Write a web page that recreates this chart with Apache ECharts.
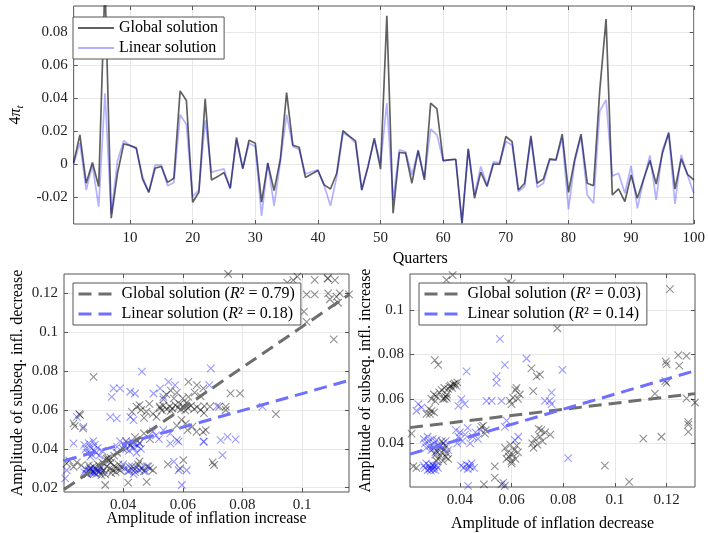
<!DOCTYPE html>
<html><head><meta charset="utf-8">
<script src="https://cdn.jsdelivr.net/npm/echarts@6/dist/echarts.min.js"></script>
<style>html,body{margin:0;padding:0;background:#fff}#c{width:708px;height:533px}</style>
</head><body><div id="c"></div>
<script>
// ---------- data ----------
const quarters = ['1','2','3','4','5','6','7','8','9','10','11','12','13','14','15','16','17','18','19','20',
'21','22','23','24','25','26','27','28','29','30','31','32','33','34','35','36','37','38','39','40',
'41','42','43','44','45','46','47','48','49','50','51','52','53','54','55','56','57','58','59','60',
'61','62','63','64','65','66','67','68','69','70','71','72','73','74','75','76','77','78','79','80',
'81','82','83','84','85','86','87','88','89','90','91','92','93','94','95','96','97','98','99','100'];

const globalPi = [0.001,0.0178,-0.0115,0.001,-0.0135,0.11,-0.0327,-0.0055,0.0123,0.0113,
0.0099,-0.009,-0.017,-0.0024,-0.0014,-0.011,-0.0085,0.0444,0.0386,-0.023,
-0.017,0.0396,-0.0095,-0.0075,-0.005,-0.0145,0.0162,-0.0028,0.0145,0.0127,
-0.023,0.0006,-0.016,0.003,0.0434,0.0115,0.0103,-0.008,-0.0059,-0.0038,
-0.0125,-0.015,-0.0055,0.0204,0.017,0.0141,-0.0155,-0.0015,0.0158,-0.003,
0.0899,-0.0297,0.0071,0.0067,-0.0115,0.0083,-0.0095,0.037,0.0335,0.0022,
0.0026,0.003,-0.0355,0.0093,-0.0206,-0.0048,-0.0135,0.0,0.0,0.0168,
0.0137,-0.0156,-0.0115,0.0172,-0.0115,-0.009,0.0032,0.0026,0.0182,-0.017,
0.003,0.0182,-0.0115,-0.013,0.045,0.0879,-0.0186,-0.015,-0.0226,-0.0065,
-0.0206,-0.009,0.0022,-0.012,0.0067,0.0192,-0.015,0.0032,-0.0061,-0.0095];

const linearPi = [0.0,0.013,-0.0156,-0.0005,-0.0257,0.043,-0.030,0.002,0.0143,0.0113,
0.0093,-0.0075,-0.017,-0.0005,-0.0005,-0.013,-0.011,0.030,0.024,-0.0196,
-0.0156,0.0265,-0.0048,-0.0038,-0.0028,-0.015,0.0147,-0.0024,0.0127,0.0107,
-0.0313,0.001,-0.0252,0.0016,0.030,0.0107,0.009,-0.0059,-0.0046,-0.0034,
-0.013,-0.0252,-0.0075,0.019,0.0168,0.0127,-0.016,-0.001,0.0147,0.0006,
0.037,-0.0216,0.0087,0.0075,-0.0065,0.0083,-0.0085,0.0212,0.0178,0.0022,
0.0026,0.003,-0.036,0.0093,-0.0186,-0.0014,-0.0125,0.0014,0.001,0.0137,
0.0117,-0.0166,-0.0135,0.0158,-0.014,-0.0115,0.0026,0.0024,0.0158,-0.0273,
0.0016,0.0168,-0.0186,-0.0236,0.0323,0.039,-0.0071,-0.0055,-0.0176,-0.001,
-0.0267,-0.0095,0.0053,-0.0216,0.0087,0.0184,-0.024,0.0057,-0.0065,-0.0176];

// left scatter: x = amplitude of inflation increase, y = subsequent decrease
const incGlobal = [
[0.0752,0.1300],[0.0970,0.1269],[0.0984,0.1286],[0.1042,0.1270],[0.1087,0.1277],[0.1110,0.1269],[0.1015,0.1195],[0.1042,0.1195],
[0.1087,0.1200],[0.1115,0.1183],[0.1126,0.1200],[0.1157,0.1195],[0.1120,0.1152],[0.1093,0.1170],[0.1006,0.1106],[0.1015,0.1054],
[0.1106,0.0963],[0.0950,0.1255],[0.1085,0.1277],
[0.0760,0.0686],[0.0792,0.0686],[0.0912,0.0579],[0.0705,0.0317],[0.0744,0.0617],[0.0744,0.0600],[0.0722,0.0617],[0.0691,0.0617],
[0.0671,0.0584],[0.0677,0.0497],
[0.0524,0.0610],[0.0535,0.0622],[0.0546,0.0605],[0.0556,0.0618],[0.0565,0.0608],[0.0575,0.0625],[0.0584,0.0612],[0.0594,0.0603],
[0.0601,0.0620],[0.0608,0.0598],[0.0618,0.0610],[0.0628,0.0622],[0.0638,0.0605],[0.0648,0.0615],[0.0660,0.0601],[0.0672,0.0620],
[0.0530,0.0598],[0.0560,0.0595],[0.0590,0.0630],[0.0612,0.0635],
[0.0619,0.0745],[0.0647,0.0728],[0.0619,0.0668],[0.0669,0.0711],[0.0560,0.0700],[0.0545,0.0680],[0.0580,0.0690],[0.0600,0.0660],
[0.0535,0.0655],[0.0570,0.0660],[0.0640,0.0690],[0.0660,0.0670],
[0.0445,0.0617],[0.0478,0.0591],[0.0512,0.0565],[0.0523,0.0617],[0.0488,0.0631],[0.0460,0.0600],[0.0500,0.0580],[0.0430,0.0590],
[0.0470,0.0560],[0.0455,0.0625],
[0.0632,0.0514],[0.0668,0.0488],[0.0646,0.0488],[0.0616,0.0497],[0.0596,0.0549],[0.0610,0.0530],[0.0580,0.0520],
[0.0410,0.0440],[0.0425,0.0420],[0.0440,0.0460],[0.0455,0.0430],[0.0470,0.0480],[0.0400,0.0400],[0.0380,0.0380],[0.0490,0.0450],[0.0370,0.0365],
[0.0290,0.0300],[0.0295,0.0285],[0.0300,0.0310],[0.0305,0.0275],[0.0310,0.0295],[0.0315,0.0320],[0.0320,0.0285],[0.0325,0.0305],
[0.0330,0.0330],[0.0335,0.0290],[0.0340,0.0345],[0.0345,0.0350],[0.0350,0.0352],[0.0352,0.0340],[0.0355,0.0300],[0.0358,0.0355],
[0.0360,0.0330],[0.0365,0.0290],[0.0370,0.0310],[0.0375,0.0280],[0.0380,0.0300],[0.0385,0.0320],[0.0390,0.0290],[0.0395,0.0305],
[0.0280,0.0270],[0.0285,0.0315],[0.0340,0.0270],[0.0360,0.0275],[0.0345,0.0310],[0.0330,0.0280],
[0.0430,0.0310],[0.0440,0.0295],[0.0450,0.0320],[0.0460,0.0300],[0.0470,0.0285],[0.0480,0.0310],[0.0490,0.0300],[0.0500,0.0290],
[0.0420,0.0285],[0.0455,0.0335],
[0.0211,0.0325],[0.0234,0.0308],[0.0220,0.0340],[0.0245,0.0330],[0.0260,0.0315],[0.0253,0.0579],[0.0238,0.0517],[0.0266,0.0505],
[0.0234,0.0531],[0.0256,0.0574],
[0.0301,0.0771],[0.0327,0.0265],[0.0340,0.0214],[0.0417,0.0226],[0.0479,0.0230],[0.0602,0.0342],[0.0591,0.0300],[0.0550,0.0320],[0.0700,0.0330]];

const incLinear = [
[0.0463,0.0797],[0.0368,0.0711],[0.0390,0.0711],[0.0424,0.0694],[0.0440,0.0685],[0.0362,0.0668],[0.0524,0.0711],[0.0552,0.0745],
[0.0574,0.0728],[0.0502,0.0685],[0.0535,0.0668],[0.0357,0.0565],[0.0379,0.0557],[0.0424,0.0565],[0.0435,0.0548],[0.0245,0.0565],
[0.0267,0.0514],[0.0535,0.0497],[0.0558,0.0480],[0.0580,0.0445],[0.0558,0.0428],[0.0586,0.0437],[0.0669,0.0437],[0.0694,0.0814],
[0.0689,0.0728],[0.0715,0.0620],[0.0727,0.0445],[0.0750,0.0462],[0.0777,0.0449],[0.0733,0.0368],[0.0867,0.0617],[0.0671,0.0437],
[0.0234,0.0428],[0.0206,0.0248],[0.0211,0.0290],[0.0570,0.0334],[0.0586,0.0290],[0.0613,0.0290],[0.0597,0.0214],
[0.0270,0.0420],[0.0275,0.0400],[0.0280,0.0380],[0.0285,0.0430],[0.0290,0.0410],[0.0295,0.0370],[0.0300,0.0395],[0.0305,0.0420],
[0.0310,0.0380],[0.0315,0.0405],[0.0320,0.0365],[0.0290,0.0360],[0.0300,0.0440],[0.0330,0.0390],
[0.0270,0.0280],[0.0275,0.0295],[0.0280,0.0270],[0.0285,0.0290],[0.0290,0.0300],[0.0295,0.0275],[0.0300,0.0285],[0.0305,0.0295],
[0.0310,0.0270],[0.0315,0.0290],[0.0320,0.0280],[0.0325,0.0300],[0.0288,0.0283],[0.0302,0.0278],
[0.0405,0.0420],[0.0410,0.0400],[0.0415,0.0430],[0.0420,0.0390],[0.0425,0.0415],[0.0430,0.0435],[0.0435,0.0405],[0.0440,0.0425],
[0.0445,0.0380],[0.0450,0.0415],[0.0455,0.0430],[0.0460,0.0400],[0.0390,0.0440],[0.0380,0.0410],
[0.0405,0.0300],[0.0415,0.0285],[0.0420,0.0310],[0.0430,0.0295],[0.0440,0.0280],[0.0445,0.0305],[0.0455,0.0290],[0.0465,0.0300],
[0.0475,0.0285],[0.0400,0.0320],[0.0435,0.0270],[0.0485,0.0310],
[0.0510,0.0470],[0.0520,0.0450],[0.0500,0.0490]];

// right scatter: x = amplitude of inflation decrease, y = subsequent increase
const decGlobal = [
[0.0348,0.1135],[0.0372,0.1157],[0.0587,0.1128],[0.0600,0.1120],[0.1213,0.1094],[0.0777,0.0918],[0.0303,0.0775],[0.0316,0.0753],
[0.1245,0.0797],[0.1197,0.0768],[0.1200,0.0756],[0.1277,0.0794],[0.1249,0.0750],[0.1200,0.0672],[0.1195,0.0680],[0.1155,0.0624],
[0.1277,0.0603],[0.1310,0.0584],[0.1284,0.0496],[0.1284,0.0485],[0.1284,0.0452],[0.1110,0.0422],[0.1180,0.0430],[0.0961,0.0300],[0.1055,0.0227],
[0.0290,0.0600],[0.0300,0.0620],[0.0305,0.0590],[0.0310,0.0610],[0.0320,0.0630],[0.0330,0.0640],[0.0335,0.0600],[0.0340,0.0650],
[0.0345,0.0610],[0.0350,0.0620],[0.0355,0.0645],[0.0360,0.0655],[0.0365,0.0660],[0.0370,0.0650],[0.0375,0.0665],[0.0380,0.0670],
[0.0385,0.0660],[0.0350,0.0605],[0.0340,0.0600],[0.0390,0.0675],
[0.0271,0.0533],[0.0284,0.0533],[0.0290,0.0545],[0.0300,0.0540],[0.0280,0.0555],
[0.0213,0.0444],[0.0206,0.0430],[0.0220,0.0297],[0.0232,0.0290],
[0.0300,0.0380],[0.0305,0.0350],[0.0310,0.0365],[0.0315,0.0330],[0.0320,0.0385],[0.0325,0.0345],[0.0330,0.0360],[0.0335,0.0320],
[0.0340,0.0375],[0.0345,0.0340],[0.0350,0.0355],[0.0355,0.0330],[0.0345,0.0390],[0.0335,0.0400],[0.0310,0.0320],[0.0330,0.0410],
[0.0594,0.0591],[0.0600,0.0577],[0.0606,0.0606],[0.0619,0.0650],[0.0632,0.0620],[0.0677,0.0738],[0.0697,0.0702],[0.0710,0.0709],
[0.0684,0.0635],[0.0615,0.0640],[0.0625,0.0600],
[0.0680,0.0400],[0.0690,0.0420],[0.0700,0.0395],[0.0710,0.0430],[0.0720,0.0410],[0.0685,0.0380],[0.0715,0.0460],[0.0705,0.0465],
[0.0730,0.0450],[0.0750,0.0440],
[0.0575,0.0380],[0.0585,0.0360],[0.0590,0.0340],[0.0595,0.0395],[0.0600,0.0320],[0.0605,0.0350],[0.0610,0.0370],[0.0615,0.0330],
[0.0620,0.0390],[0.0580,0.0330],[0.0600,0.0310],[0.0625,0.0360],
[0.0484,0.0474],[0.0497,0.0444],[0.0500,0.0460],[0.0535,0.0297],[0.0535,0.0246],[0.0493,0.0216],[0.0561,0.0216],[0.0574,0.0209],[0.0490,0.0480]];

const decLinear = [
[0.0555,0.0870],[0.0574,0.0753],[0.0658,0.0782],[0.0542,0.0702],[0.0542,0.0672],[0.0426,0.0724],[0.0406,0.0599],[0.0419,0.0577],
[0.0394,0.0569],[0.0503,0.0591],[0.0523,0.0591],[0.0561,0.0591],[0.0239,0.0577],[0.0252,0.0562],[0.0232,0.0547],[0.0206,0.0253],
[0.0432,0.0209],[0.0568,0.0224],[0.0626,0.0430],[0.0613,0.0415],[0.0581,0.0503],[0.0574,0.0474],[0.0729,0.0591],[0.0755,0.0577],
[0.0797,0.0731],[0.0819,0.0334],[0.0748,0.0591],[0.0755,0.0628],
[0.0260,0.0420],[0.0265,0.0400],[0.0270,0.0380],[0.0275,0.0430],[0.0280,0.0410],[0.0285,0.0390],[0.0290,0.0370],[0.0295,0.0420],
[0.0300,0.0400],[0.0305,0.0360],[0.0310,0.0415],[0.0320,0.0390],[0.0330,0.0380],[0.0345,0.0410],[0.0355,0.0370],
[0.0260,0.0300],[0.0265,0.0290],[0.0270,0.0310],[0.0275,0.0280],[0.0280,0.0300],[0.0285,0.0290],[0.0288,0.0278],[0.0292,0.0305],
[0.0296,0.0285],[0.0300,0.0295],[0.0305,0.0280],[0.0310,0.0300],[0.0315,0.0290],[0.0283,0.0285],[0.0298,0.0300],
[0.0405,0.0300],[0.0415,0.0290],[0.0425,0.0305],[0.0430,0.0285],[0.0440,0.0295],[0.0445,0.0310],[0.0455,0.0290],[0.0435,0.0300],
[0.0385,0.0460],[0.0395,0.0430],[0.0400,0.0450],[0.0410,0.0410],[0.0420,0.0440],[0.0430,0.0470],[0.0440,0.0400],[0.0450,0.0430],
[0.0460,0.0450],[0.0470,0.0420],[0.0480,0.0460],[0.0390,0.0400]];

// fitted regression lines: [intercept, slope]
const incFitGlobal = [-0.00211, 1.05];
const incFitLinear = [0.02515, 0.433];
const decFitGlobal = [0.04423, 0.1387];
const decFitLinear = [0.02816, 0.34];

// axis ranges and tick labels
const topY = [-0.0362, 0.0958];
const topYTicks = [-0.02, 0, 0.02, 0.04, 0.06, 0.08];
const incX = [0.0202, 0.1157], incXTicks = [0.04, 0.06, 0.08, 0.1];
const incY = [0.0178, 0.1300], incYTicks = [0.02, 0.04, 0.06, 0.08, 0.1, 0.12];
const decX = [0.0207, 0.1310], decXTicks = [0.04, 0.06, 0.08, 0.1, 0.12];
const decY = [0.0204, 0.1162], decYTicks = [0.04, 0.06, 0.08, 0.1];

// ---------- styling ----------
const serif = 'Liberation Serif';
const frame = '#555555';
const gridC = '#e8e8e8';
const fmt = v => String(+(+v).toFixed(4));
const richName = {
  i: {fontFamily: serif, fontSize: 16, fontStyle: 'italic', color: '#000'},
  s: {fontFamily: serif, fontSize: 11, fontStyle: 'italic', color: '#000', verticalAlign: 'bottom', padding: [8, 0, 0, 0]}
};
const nameStyle = {fontFamily: serif, fontSize: 16, color: '#000', rich: richName};

function valAxis(grid, range, ticks, pos, name, gap, mirror, noMove) {
  const ax = {
    type: 'value', gridIndex: grid, min: range[0], max: range[1], position: pos,
    name: mirror ? '' : name, nameLocation: 'middle', nameGap: gap,
    nameRotate: (pos === 'left') ? 90 : 0, nameTextStyle: nameStyle,
    axisLine: {show: false, onZero: false},
    axisTick: {show: true, inside: true, length: 4, customValues: ticks, lineStyle: {color: frame}},
    axisLabel: {show: !mirror, customValues: ticks, margin: 6, formatter: fmt,
      fontFamily: serif, fontSize: 15, color: '#222'},
    splitLine: {show: !mirror, lineStyle: {color: gridC, width: 1}}
  };
  if (noMove) ax.nameMoveOverlap = false;
  return ax;
}
const q10 = (i) => (i + 1) % 10 === 0;
function catAxis(mirror) {
  return {
    type: 'category', gridIndex: 0, data: quarters, boundaryGap: false, position: mirror ? 'top' : 'bottom',
    name: mirror ? '' : 'Quarters', nameLocation: 'middle', nameGap: 27,
    nameTextStyle: Object.assign({}, nameStyle, {padding: [0, 0, 0, 73]}),
    axisLine: {show: false, onZero: false},
    axisTick: {show: true, inside: true, length: 4, interval: (i) => q10(i), lineStyle: {color: frame}},
    axisLabel: {show: !mirror, interval: (i) => q10(i), margin: 7, fontFamily: serif, fontSize: 15, color: '#222'},
    splitLine: {show: !mirror, interval: (i) => q10(i), lineStyle: {color: gridC, width: 1}}
  };
}
const crossSym = 'path://M0 0L10 10M10 0L0 10';
function scatterSeries(name, data, ax, col) {
  return {type: 'scatter', name: name, data: data, xAxisIndex: ax, yAxisIndex: ax,
    symbol: crossSym, symbolSize: 7.5,
    itemStyle: {color: 'rgba(0,0,0,0)', borderColor: col, borderWidth: 1.1},
    emphasis: {disabled: true}, z: 2};
}
function fitSeries(name, fit, range, ax, col) {
  const pts = range.map(x => [x, fit[0] + fit[1] * x]);
  return {type: 'line', name: name, data: pts, xAxisIndex: ax, yAxisIndex: ax,
    symbol: 'none',
    color: col, lineStyle: {color: col, width: 3, type: [13, 7]}, z: 4, clip: true};
}
const legendBase = {
  orient: 'vertical', itemWidth: 38, itemHeight: 14, itemGap: 4,
  padding: [3, 6, 3, 4], borderColor: frame, borderWidth: 1, backgroundColor: '#fff',
  itemStyle: {opacity: 0},
  textStyle: {fontFamily: serif, fontSize: 16, color: '#000',
    rich: {i: {fontFamily: serif, fontSize: 16, fontStyle: 'italic', color: '#000'}}},
  formatter: (n) => n.replace('R²', '{i|R}²'),
  selectedMode: false
};

const chart = echarts.init(document.getElementById('c'), null, {renderer: 'canvas'});
chart.setOption({
  animation: false,
  backgroundColor: '#fff',
  grid: [
    {left: 64, top: 6, width: 631, height: 218, show: true, borderColor: frame, borderWidth: 1, backgroundColor: 'transparent'},
    {left: 64, top: 274, width: 285, height: 218, show: true, borderColor: frame, borderWidth: 1, backgroundColor: 'transparent'},
    {left: 410, top: 274, width: 285, height: 217, show: true, borderColor: frame, borderWidth: 1, backgroundColor: 'transparent'}
  ],
  xAxis: [
    catAxis(false), catAxis(true),
    valAxis(1, incX, incXTicks, 'bottom', 'Amplitude of inflation increase', 19, false, true),
    valAxis(1, incX, incXTicks, 'top', '', 0, true),
    valAxis(2, decX, decXTicks, 'bottom', 'Amplitude of inflation decrease', 29, false, true),
    valAxis(2, decX, decXTicks, 'top', '', 0, true)
  ],
  yAxis: [
    valAxis(0, topY, topYTicks, 'left', '4{i|π}{s|t}', 43, false),
    valAxis(0, topY, topYTicks, 'right', '', 0, true),
    valAxis(1, incY, incYTicks, 'left', 'Amplitude of subseq. infl. decrease', 38, false),
    valAxis(1, incY, incYTicks, 'right', '', 0, true),
    valAxis(2, decY, decYTicks, 'left', 'Amplitude of subseq. infl. increase', 36, false),
    valAxis(2, decY, decYTicks, 'right', '', 0, true)
  ],
  legend: [
    Object.assign({}, legendBase, {left: 73, top: 17, itemWidth: 36, data: ['Global solution', 'Linear solution']}),
    Object.assign({}, legendBase, {left: 73, top: 283, lineStyle: {width: 3},
      data: ['Global solution (R² = 0.79)', 'Linear solution (R² = 0.18)']}),
    Object.assign({}, legendBase, {left: 419, top: 283, lineStyle: {width: 3},
      data: ['Global solution (R² = 0.03)', 'Linear solution (R² = 0.14)']})
  ],
  series: [
    {type: 'line', name: 'Global solution', data: globalPi, xAxisIndex: 0, yAxisIndex: 0, symbol: 'none',
      color: 'rgba(0,0,0,0.62)', lineStyle: {color: 'rgba(0,0,0,0.62)', width: 1.7}, z: 2, clip: true},
    {type: 'line', name: 'Linear solution', data: linearPi, xAxisIndex: 0, yAxisIndex: 0, symbol: 'none',
      color: 'rgba(0,0,255,0.3)', lineStyle: {color: 'rgba(0,0,255,0.3)', width: 1.7}, z: 3, clip: true},
    scatterSeries('incGlobalPts', incGlobal, 2, 'rgba(0,0,0,0.55)'),
    scatterSeries('incLinearPts', incLinear, 2, 'rgba(0,0,255,0.5)'),
    fitSeries('Global solution (R² = 0.79)', incFitGlobal, incX, 2, '#6e6e6e'),
    fitSeries('Linear solution (R² = 0.18)', incFitLinear, incX, 2, '#7070ff'),
    scatterSeries('decGlobalPts', decGlobal, 4, 'rgba(0,0,0,0.55)'),
    scatterSeries('decLinearPts', decLinear, 4, 'rgba(0,0,255,0.5)'),
    fitSeries('Global solution (R² = 0.03)', decFitGlobal, decX, 4, '#6e6e6e'),
    fitSeries('Linear solution (R² = 0.14)', decFitLinear, decX, 4, '#7070ff')
  ]
});
</script></body></html>
